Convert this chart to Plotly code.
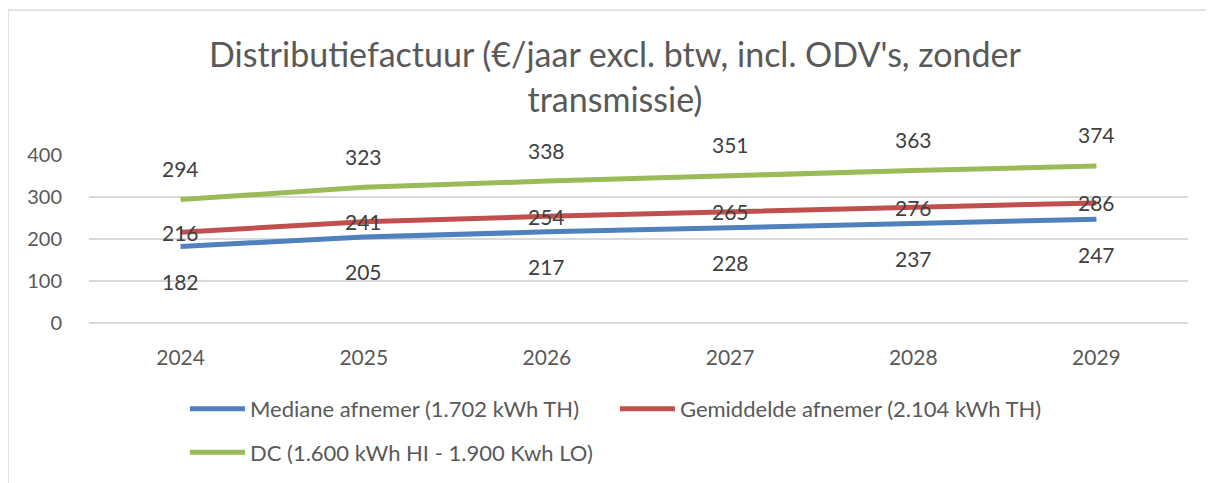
import plotly.graph_objects as go

years = ["2024", "2025", "2026", "2027", "2028", "2029"]
mediane = [182, 205, 217, 228, 237, 247]
gemiddelde = [216, 241, 254, 265, 276, 286]
dc = [294, 323, 338, 351, 363, 374]

names = ["Mediane afnemer (1.702 kWh TH)",
         "Gemiddelde afnemer (2.104 kWh TH)",
         "DC (1.600 kWh HI - 1.900 Kwh LO)"]
colors = ["#4F81BD", "#C0504D", "#9BBB59"]
shifts = [-35, 0, 31]
series = [mediane, gemiddelde, dc]
legends = ["legend", "legend", "legend2"]

FONT = "Lato"
# page body has an 8px default margin; layout compensates for it
L, T, PW, PH = 81, 147, 1099, 168
fig = go.Figure()
for vals, name, col, lg in zip(series, names, colors, legends):
    fig.add_trace(go.Scatter(x=years, y=vals, mode="lines", name=name,
                             line=dict(color=col, width=5), legend=lg))

for vals, sh in zip(series, shifts):
    for i, v in enumerate(vals):
        fig.add_annotation(x=i, y=v, xref="x", yref="y", text=str(v), showarrow=False, yshift=sh,
                           font=dict(family=FONT, size=21, color="#404040"))

fig.update_layout(
    width=1214, height=483,
    margin=dict(l=L, r=1214 - L - PW, t=T, b=483 - T - PH, autoexpand=False),
    paper_bgcolor="white", plot_bgcolor="white",
    title=dict(text="Distributiefactuur (€/jaar excl. btw, incl. ODV's, zonder<br>transmissie)",
               x=0.5, xanchor="center", y=0.877, yanchor="middle",
               font=dict(family=FONT, size=34, color="#595959")),
    xaxis=dict(type="category", range=[-0.5, 5.5], showgrid=False, showline=False,
               ticks="", ticklabelstandoff=20, automargin=False,
               tickfont=dict(family=FONT, size=21, color="#595959")),
    yaxis=dict(range=[0, 400], tickvals=[0, 100, 200, 300, 400], showline=False,
               gridcolor="#D9D9D9", gridwidth=1.5, zeroline=True, zerolinecolor="#D9D9D9",
               zerolinewidth=1.5, ticks="", automargin=False, ticklabelstandoff=26,
               tickfont=dict(family=FONT, size=20, color="#595959")),
    legend=dict(orientation="h", x=0.0873, xanchor="left", y=-0.512, yanchor="middle",
                entrywidth=360, entrywidthmode="pixels", itemwidth=55,
                font=dict(family=FONT, size=22, color="#595959"), bgcolor="rgba(0,0,0,0)"),
    legend2=dict(orientation="h", x=0.0873, xanchor="left", y=-0.77, yanchor="middle",
                 itemwidth=55,
                 font=dict(family=FONT, size=22, color="#595959"), bgcolor="rgba(0,0,0,0)"),
    showlegend=True,
)

fig.add_shape(type="rect", xref="paper", yref="paper",
              x0=-L / PW, x1=1.2, y0=-3, y1=(T + PH - 2) / PH,
              line=dict(color="#D9D9D9", width=1.5), fillcolor="rgba(0,0,0,0)", layer="below")

fig.write_html("out.html")
